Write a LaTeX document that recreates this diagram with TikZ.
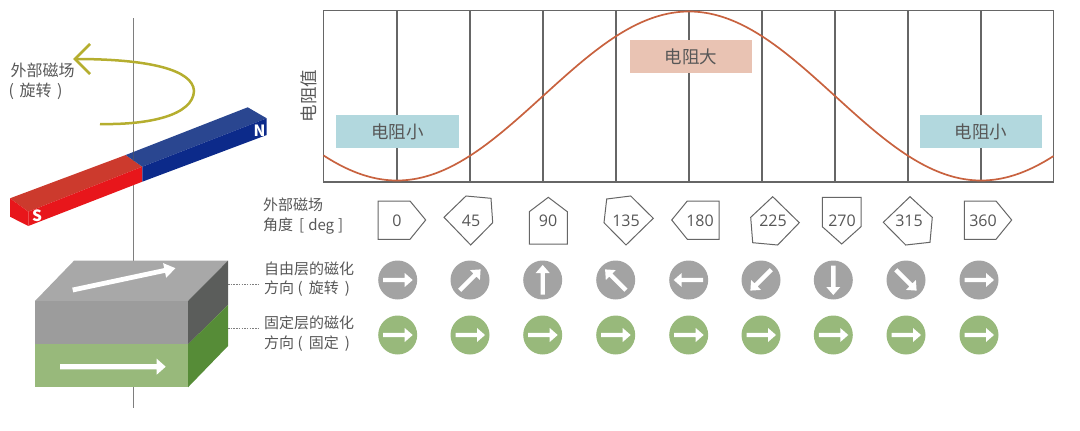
\documentclass[tikz,border=0pt]{standalone}
\usepackage{fontspec}
\setmainfont{Noto Sans CJK SC}
\newfontfamily\numfont{Open Sans}
\definecolor{txt}{HTML}{575757}
\definecolor{framec}{HTML}{666666}
\definecolor{curvec}{HTML}{C8623F}
\definecolor{tealb}{HTML}{B2D8DE}
\definecolor{pinkb}{HTML}{E9C3B3}
\definecolor{grayc}{HTML}{A3A3A3}
\definecolor{greenc}{HTML}{98B97B}
\definecolor{yellowc}{HTML}{B5AE2F}
\definecolor{axisc}{HTML}{7E7E7E}
\definecolor{redtop}{HTML}{CC3A2D}
\definecolor{redfront}{HTML}{E8161B}
\definecolor{bluetop}{HTML}{2A4690}
\definecolor{bluefront}{HTML}{0C2A8A}
\definecolor{blocktop}{HTML}{A8A8A8}
\definecolor{blockfront}{HTML}{9C9C9C}
\definecolor{blockside}{HTML}{5B5D5B}
\definecolor{greenside}{HTML}{568C37}
\tikzset{
  frameline/.style={draw=framec,line width=1.1pt},
  tagshape/.style={draw=framec,line width=1pt,line join=miter,fill=white},
  tagtext/.style={text=txt,font=\numfont\fontsize{16}{17}\selectfont,inner sep=0pt},
  bandbox/.style={inner sep=0pt,minimum width=122.5pt,minimum height=33.5pt,text=txt,font=\fontsize{17.5}{19}\selectfont},
  rowlabel/.style={anchor=west,align=left,inner sep=0pt,text=txt,font=\fontsize{15}{19.5}\selectfont},
  disc/.style={circle,inner sep=0pt,minimum size=39pt},
  gdisc/.style={disc,fill=grayc},
  vdisc/.style={disc,fill=greenc},
  leader/.style={draw=axisc,line width=0.9pt,dash pattern=on 1.5pt off 1.2pt},
  polelabel/.style={text=white,font=\bfseries\fontsize{15.5}{16}\selectfont,inner sep=0pt},
}
\newcommand{\glyphat}[2]{\fill[white,shift={(#1)},rotate=#2] (-14.5,-2.2) -- (7,-2.2) -- (7,-7) -- (15,0) -- (7,7) -- (7,2.2) -- (-14.5,2.2) -- cycle;}
\newcommand{\spacedparen}[1]{\hspace{3.5pt}(\hspace{6pt}#1\hspace{6pt})}
\begin{document}
\begin{tikzpicture}[x=1pt,y=-1pt]
\useasboundingbox (0,0) rectangle (1080,431);
% axis
\coordinate (axT) at (133.5,18);
\coordinate (axB) at (133.5,408);
\coordinate (axM) at (133.5,161);
\coordinate (axN) at (133.5,150);
\draw[axisc,line width=1.3pt] (axT) -- (axB);
% magnet
\fill[redtop] (10,198.3) -- (125.7,155) -- (142.3,166.7) -- (28.3,211.7) -- cycle;
\fill[redfront] (28.3,211.7) -- (142.3,166.7) -- (142.3,181.7) -- (28.3,226) -- cycle;
\fill[redfront] (10,198.3) -- (28.3,211.7) -- (28.3,226) -- (10,216.7) -- cycle;
\fill[bluetop] (125.7,155) -- (247.7,107.3) -- (266.7,118.3) -- (142.3,166.7) -- cycle;
\fill[bluefront] (142.3,166.7) -- (266.7,118.3) -- (266.7,135) -- (142.3,181.7) -- cycle;
\draw[axisc!70!black,opacity=.55,line width=1.3pt] (axN) -- (axM);
\node[polelabel] (mS) at (37,215.5) {S};
\node[polelabel] (mN) at (259.5,131) {N};
% rotation arrow
\coordinate (rotA) at (100,124);
\coordinate (rotB) at (194,91);
\coordinate (rotC) at (75,59);
\draw[yellowc,line width=2.5pt] (rotA) .. controls (150,125) and (193,115) .. (rotB) .. controls (193,70) and (150,59) .. (rotC);
\draw[yellowc,line width=2.5pt] (90,44) -- (rotC) -- (90,74);
\node[anchor=west,align=left,inner sep=0pt,text=txt,font=\fontsize{16}{20}\selectfont] (rotL) at (8,81.5) {\hspace{2.5pt}外部磁场\\\hspace{0.5pt}(\hspace{5.5pt}旋转\hspace{5.5pt})};
% block
\fill[blocktop] (35,301) -- (74,260.7) -- (228,260.7) -- (188,301) -- cycle;
\fill[blockfront] (35,301) rectangle (188,344.3);
\fill[greenc] (35,344.3) rectangle (188,387.3);
\fill[blockside] (188,301) -- (228,260.7) -- (228,305) -- (188,344.3) -- cycle;
\fill[greenside] (188,344.3) -- (228,305) -- (228,346) -- (188,387.3) -- cycle;
\fill[white,shift={(72.7,290)},rotate=12] (0,-2.4) -- (94,-2.4) -- (94,-7.5) -- (105,0) -- (94,7.5) -- (94,2.4) -- (0,2.4) -- cycle;
\fill[white,shift={(60,366.7)}] (0,-2.6) -- (96.7,-2.6) -- (96.7,-8) -- (105.7,0) -- (96.7,8) -- (96.7,2.6) -- (0,2.6) -- cycle;
% chart
\draw[frameline] (323.5,10.5) rectangle (1053.5,182);
\foreach \x in {397,470,543,616,689,762,835,908,981} \draw[frameline] (\x,10.5) -- (\x,182);
\node[bandbox,fill=tealb] (lowA) at (397.7,131.7) {电阻小};
\node[bandbox,fill=tealb] (lowB) at (981,131.7) {电阻小};
\node[bandbox,fill=pinkb] (high) at (691,56.5) {电阻大};
\draw[curvec,line width=1.7pt,domain=323.5:1053.5,samples=150,smooth] plot (\x,{96+84.5*cos((\x-397)/584*360)});
\node[rotate=90,inner sep=0pt,text=txt,font=\fontsize{17.5}{19}\selectfont] (yL) at (309,96) {电阻值};
% row labels
\node[rowlabel] (r1) at (263,216) {外部磁场\\角度\hspace{6pt}[\hspace{4pt}deg\hspace{4pt}]};
\node[rowlabel] (r2) at (264,279) {自由层的磁化\\方向\spacedparen{旋转}};
\node[rowlabel] (r3) at (264,333.5) {固定层的磁化\\方向\spacedparen{固定}};
\coordinate (d1) at (228,284);
\coordinate (d1e) at (258,284);
\coordinate (d2) at (228,328);
\coordinate (d2e) at (258,328);
\draw[leader] (d1) -- (d1e);
\draw[leader] (d2) -- (d2e);
% tags
\draw[tagshape] (378,201) -- (410,201) -- (425.7,220) -- (410,239.3) -- (378,239.3) -- cycle;
\draw[tagshape] (444,217.3) -- (466,196) -- (491,198.3) -- (492.7,222.7) -- (470.7,245) -- cycle;
\draw[tagshape] (529.3,211.7) -- (548.3,197.3) -- (567.3,211.7) -- (567.3,244) -- (529.3,244) -- cycle;
\draw[tagshape] (606.7,199) -- (630.7,196) -- (653.3,218.3) -- (626,245) -- (604,222.7) -- cycle;
\draw[tagshape] (671.7,220) -- (687.3,201) -- (719,201) -- (719,239.3) -- (687.3,239.3) -- cycle;
\draw[tagshape] (772.7,196.7) -- (799.3,222.7) -- (777.7,245) -- (752.7,242.7) -- (750.7,217.3) -- cycle;
\draw[tagshape] (822.3,197.3) -- (861,197.3) -- (861,226.7) -- (841.7,244) -- (822.3,226.7) -- cycle;
\draw[tagshape] (883.3,222.3) -- (910,196.7) -- (932.3,217.3) -- (930,242.3) -- (905.7,245) -- cycle;
\draw[tagshape] (964.3,201) -- (996,201) -- (1011.7,220) -- (996,239.3) -- (964.3,239.3) -- cycle;
\foreach \x/\t in {397/0,471/45,548/90,626/135,700/180,773/225,842/270,909/315,983/360}
  \node[tagtext] (tag\t) at (\x,221) {\t};
% discs
\foreach \x/\a [count=\i] in {397.7/0,470/45,542.7/90,615.7/135,688.7/180,761/225,833.3/270,906/315,979/0} {
  \node[gdisc] (free\i) at (\x,280) {};
  \glyphat{free\i}{\a}
  \node[vdisc] (pin\i) at (\x,335) {};
  \glyphat{pin\i}{0}
}
\end{tikzpicture}
\end{document}
